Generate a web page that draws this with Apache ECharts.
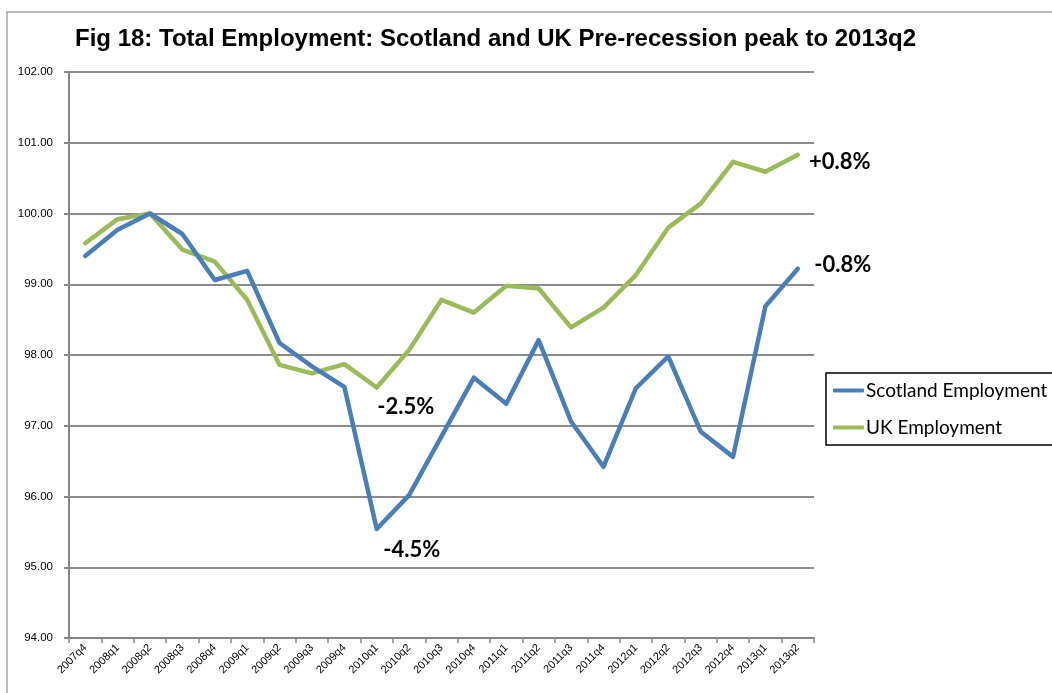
<!DOCTYPE html>
<html>
<head>
<meta charset="utf-8">
<style>
  html, body { margin: 0; padding: 0; background: #fff; }
  #chart { width: 1052px; height: 693px; }
</style>
<script src="https://cdn.jsdelivr.net/npm/echarts@6/dist/echarts.min.js"></script>
</head>
<body>
<div id="chart"></div>
<script>
// Quarters from the pre-recession peak period to 2013q2
const quarters = ['2007q4','2008q1','2008q2','2008q3','2008q4','2009q1','2009q2','2009q3','2009q4',
  '2010q1','2010q2','2010q3','2010q4','2011q1','2011q2','2011q3','2011q4',
  '2012q1','2012q2','2012q3','2012q4','2013q1','2013q2'];

// Employment index, pre-recession peak (2008q2) = 100
const scotland = [99.40, 99.77, 100.00, 99.71, 99.06, 99.19, 98.17, 97.84, 97.55,
  95.54, 96.02, 96.85, 97.68, 97.31, 98.21, 97.06, 96.42,
  97.53, 97.98, 96.92, 96.56, 98.69, 99.22];
const uk = [99.58, 99.92, 100.00, 99.49, 99.32, 98.78, 97.86, 97.74, 97.87,
  97.54, 98.07, 98.78, 98.60, 98.98, 98.94, 98.39, 98.67,
  99.13, 99.80, 100.14, 100.73, 100.59, 100.83];

// Points annotated with their change from the peak
const scotlandNotes = ['2010q1', '2013q2'];
const ukNotes = ['2010q1', '2013q2'];

const yTicks = { min: 94, max: 102, step: 1 };

const BLUE = '#4a7ebb';
const GREEN = '#9bbb59';

function pct(v) {
  const d = v - 100;
  return (d > 0 ? '+' : '') + d.toFixed(1) + '%';
}

function notes(values, keys, offsets) {
  return keys.map((k, i) => {
    const v = values[quarters.indexOf(k)];
    return {
      coord: [k, v],
      value: v,
      label: { formatter: pct(v), offset: offsets[i] }
    };
  });
}

const noteLabel = {
  show: true,
  position: 'inside',
  color: '#000',
  fontFamily: 'Lato',
  fontWeight: 'bold',
  fontSize: 22
};

const chart = echarts.init(document.getElementById('chart'), null, { renderer: 'canvas' });

chart.setOption({
  animation: false,
  backgroundColor: '#fff',
  title: {
    text: 'Fig 18: Total Employment: Scotland and UK Pre-recession peak to 2013q2',
    left: 70,
    top: 22,
    textStyle: { fontFamily: 'Liberation Sans', fontWeight: 'bold', fontSize: 24, color: '#000' }
  },
  graphic: [{
    type: 'rect',
    shape: { x: 7, y: 12, width: 1200, height: 900 },
    style: { fill: 'none', stroke: '#a6a6a6', lineWidth: 1.5 },
    silent: true,
    z: -1
  }],
  legend: {
    orient: 'vertical',
    left: 826,
    top: 373,
    padding: [8, 8, 8, 7],
    itemGap: 18,
    itemWidth: 31,
    itemHeight: 4,
    icon: 'roundRect',
    borderColor: '#000',
    borderWidth: 1.5,
    textStyle: { fontFamily: 'Lato', fontSize: 19, color: '#000', padding: [0, 0, 0, -3] },
    data: ['Scotland Employment', 'UK Employment']
  },
  grid: { left: 69, right: 238, top: 72, bottom: 55, containLabel: false },
  xAxis: {
    type: 'category',
    data: quarters,
    boundaryGap: true,
    axisLine: { lineStyle: { color: '#868686', width: 2 } },
    axisTick: { show: true, length: 5, lineStyle: { color: '#868686', width: 1.5 } },
    axisLabel: {
      rotate: 45,
      interval: 0,
      fontFamily: 'Liberation Sans',
      fontSize: 11,
      color: '#000',
      margin: 8
    }
  },
  yAxis: {
    type: 'value',
    min: yTicks.min,
    max: yTicks.max,
    interval: yTicks.step,
    axisLine: { show: true, lineStyle: { color: '#868686', width: 2 } },
    axisTick: { show: true, length: 5, lineStyle: { color: '#868686', width: 2 } },
    splitLine: { lineStyle: { color: '#8c8c8c', width: 2 } },
    axisLabel: {
      formatter: v => v.toFixed(2),
      fontFamily: 'Liberation Sans',
      fontSize: 11.5,
      color: '#000',
      margin: 16
    }
  },
  series: [
    {
      name: 'Scotland Employment',
      type: 'line',
      data: scotland,
      symbol: 'none',
      color: BLUE,
      lineStyle: { color: BLUE, width: 4.5, cap: 'round', join: 'round' },
      z: 3,
      markPoint: {
        symbol: 'circle',
        symbolSize: 0,
        label: noteLabel,
        data: notes(scotland, scotlandNotes, [[35, 21], [45, -4]])
      }
    },
    {
      name: 'UK Employment',
      type: 'line',
      data: uk,
      symbol: 'none',
      color: GREEN,
      lineStyle: { color: GREEN, width: 4.5, cap: 'round', join: 'round' },
      z: 2,
      markPoint: {
        symbol: 'circle',
        symbolSize: 0,
        label: noteLabel,
        data: notes(uk, ukNotes, [[29, 19], [42, 7]])
      }
    }
  ]
});
</script>
</body>
</html>
